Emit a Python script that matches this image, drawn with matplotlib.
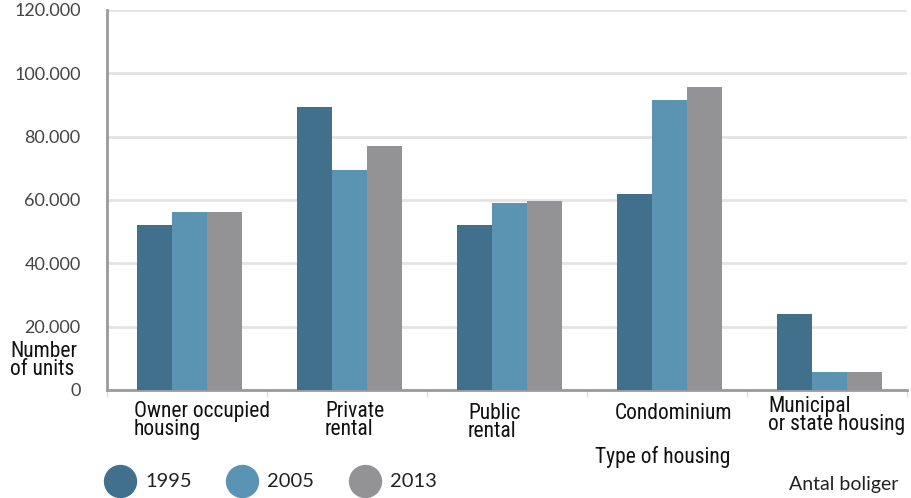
import matplotlib
matplotlib.use("Agg")
import matplotlib.pyplot as plt
from matplotlib.lines import Line2D
from matplotlib.transforms import blended_transform_factory
import numpy as np

categories = ["Owner occupied\nhousing", "Private\nrental", "Public\nrental",
              "Condominium", "Municipal\nor state housing"]
years = ["1995", "2005", "2013"]
v1995 = [52200, 89500, 52200, 61900, 24000]
v2005 = [56300, 69500, 59000, 91600, 5800]
v2013 = [56300, 77000, 59800, 95600, 5800]
yticks = [0, 20000, 40000, 60000, 80000, 100000, 120000]
ytick_labels = ["0", "20.000", "40.000", "60.000", "80.000", "100.000", "120.000"]

colors = ["#40708c", "#5b94b2", "#939396"]
narrow = ["Roboto Condensed", "Liberation Sans Narrow", "Roboto", "DejaVu Sans"]
gill = ["Lato", "DejaVu Sans"]

W, H = 911, 498
fig = plt.figure(figsize=(W / 100, H / 100), dpi=100)
ax = fig.add_axes([107 / W, 1 - 390 / H, 800 / W, 380 / H])

x = np.arange(len(categories)) + 0.018
bw = 0.219
for k, vals in enumerate([v1995, v2005, v2013]):
    ax.bar(x + (k - 1) * bw, vals, width=bw, color=colors[k], zorder=3)

ax.set_xlim(-0.5, len(categories) - 0.5)
ax.set_ylim(0, 120000)
ax.set_yticks(yticks)
ax.set_yticklabels(ytick_labels, fontfamily=gill, fontsize=13, color="#444444")
ax.tick_params(axis="y", length=0, pad=19)
ax.set_xticks(np.arange(-0.5, len(categories), 1.0))
ax.set_xticklabels([])
ax.tick_params(axis="x", length=5, width=1, color="#dddddd", direction="out")
ax.grid(axis="y", color="#e3e3e3", linewidth=2, zorder=0)
for s in ["top", "right"]:
    ax.spines[s].set_visible(False)
for s in ["left", "bottom"]:
    ax.spines[s].set_color("#9a9a9a")
    ax.spines[s].set_linewidth(2)

# category labels, left aligned below each group
label_dx = [-0.331, -0.137, -0.244, -0.325, -0.369]
label_top = [401, 401, 403, 403, 396]
tr = blended_transform_factory(ax.transData, fig.transFigure)
for i, lab in enumerate(categories):
    ax.text(i + label_dx[i], 1 - label_top[i] / H, lab, transform=tr,
            ha="left", va="top", fontfamily=narrow, fontsize=15.5,
            linespacing=0.82, color="#111111", clip_on=False)

fig.text(595 / W, 1 - 446 / H, "Type of housing", ha="left", va="top",
         fontfamily=narrow, fontsize=15.5, color="#111111")
fig.text(10 / W, 1 - 341 / H, "Number\nof units", ha="left", va="top",
         fontfamily=narrow, fontsize=15.5, linespacing=0.82, color="#111111")
fig.text(898 / W, 1 - 484 / H, "Antal boliger", ha="right", va="center",
         fontfamily=gill, fontsize=14, color="#222222")

# legend
leg_x = [120, 242, 365]
for k, yr in enumerate(years):
    fig.add_artist(Line2D([leg_x[k] / W], [1 - 481 / H], marker="o",
                          markersize=23, color=colors[k], linestyle="none",
                          transform=fig.transFigure))
    fig.text((leg_x[k] + 25) / W, 1 - 481 / H, yr, ha="left", va="center",
             fontfamily=gill, fontsize=14.5, color="#222222")

fig.savefig("out.png", dpi=100)
